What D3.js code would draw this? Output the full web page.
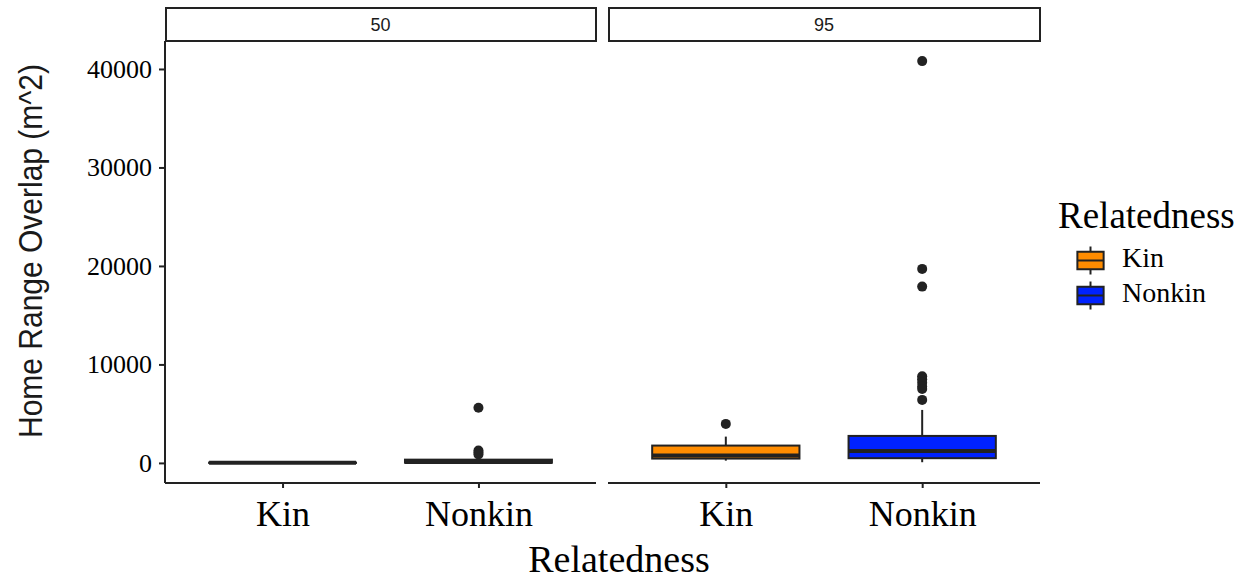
<!DOCTYPE html>
<html>
<head>
<meta charset="utf-8">
<script src="https://cdn.jsdelivr.net/npm/d3@7"></script>
<style>
  html, body { margin: 0; padding: 0; background: #fff; }
  svg { display: block; }
</style>
</head>
<body>
<svg id="chart" width="1236" height="581"></svg>
<script>
// Facet panels (home range isopleth) and groups
const facets = ["50", "95"];
const categories = ["Kin", "Nonkin"];
const fillColors = ["#ff8c00", "#0022ff"];

// Box summaries, one entry per facet x group
const boxFacet = ["50", "50", "95", "95"];
const boxGroup = ["Kin", "Nonkin", "Kin", "Nonkin"];
const lowerWhisker = [0, 0, 230, 70];
const q1 = [0, 20, 440, 480];
const median = [5, 100, 760, 1220];
const q3 = [30, 330, 1760, 2740];
const upperWhisker = [60, 600, 2670, 5380];
const outliers = [
  [],
  [5600, 1250, 1050, 850],
  [3960],
  [40800, 19700, 17900, 8800, 8500, 8150, 7750, 7500, 6400]
];

const yTicks = [0, 10000, 20000, 30000, 40000];

const svg = d3.select("#chart");
const ink = "#222";
const serif = "'Liberation Serif', 'Times New Roman', serif";
const sans = "'Liberation Sans', Arial, sans-serif";

// Layout
const panelTop = 41, panelBottom = 483;
const panelX = [[165, 596], [608, 1040]];
const stripTop = 8;

// y scale with 5% padding around the data range
const yMin = 0, yMax = 40800;
const pad = (yMax - yMin) * 0.05;
const y = d3.scaleLinear().domain([yMin - pad, yMax + pad]).range([panelBottom, panelTop]);

const color = d3.scaleOrdinal().domain(categories).range(fillColors);

facets.forEach((f, fi) => {
  const [x0, x1] = panelX[fi];
  // discrete positions: categories at 1..n with 0.6 expansion on each side
  const xPos = d3.scaleLinear().domain([0.4, categories.length + 0.6]).range([x0, x1]);
  const step = xPos(2) - xPos(1);
  const boxW = step * 0.75;
  const g = svg.append("g");

  // strip
  g.append("rect")
    .attr("x", x0 + 1).attr("y", stripTop)
    .attr("width", x1 - x0 - 1).attr("height", panelTop - stripTop)
    .attr("fill", "#fff").attr("stroke", ink).attr("stroke-width", 2);
  g.append("text")
    .attr("x", (x0 + x1) / 2).attr("y", (stripTop + panelTop) / 2)
    .attr("dy", "0.36em").attr("text-anchor", "middle")
    .attr("font-family", sans).attr("font-size", 18).attr("fill", "#1a1a1a")
    .text(f);

  // x axis
  const xAxis = d3.axisBottom(d3.scalePoint().domain(categories).range([xPos(1), xPos(2)]))
    .tickSize(5).tickPadding(10);
  const ax = g.append("g").attr("transform", `translate(0,${panelBottom})`).call(xAxis);
  ax.select(".domain").attr("d", `M${x0},0H${x1}`).attr("stroke", ink).attr("stroke-width", 2);
  ax.selectAll(".tick line").attr("stroke", ink).attr("stroke-width", 2);
  ax.selectAll(".tick text")
    .attr("font-family", serif).attr("font-size", 36).attr("fill", "#000")
    .attr("dy", "0.78em");

  // y axis only on the first panel
  if (fi === 0) {
    const yAxis = d3.axisLeft(y).tickValues(yTicks).tickFormat(d3.format("d")).tickSize(6).tickPadding(7);
    const ay = g.append("g").attr("transform", `translate(${x0},0)`).call(yAxis);
    ay.select(".domain").attr("d", `M0,${panelTop}V${panelBottom}`).attr("stroke", ink).attr("stroke-width", 2);
    ay.selectAll(".tick line").attr("stroke", ink).attr("stroke-width", 2);
    ay.selectAll(".tick text")
      .attr("font-family", serif).attr("font-size", 26).attr("fill", "#000");
  }

  // boxes
  boxFacet.forEach((bf, i) => {
    if (bf !== f) return;
    const cx = xPos(categories.indexOf(boxGroup[i]) + 1);
    const bg = g.append("g");
    bg.append("line")
      .attr("x1", cx).attr("x2", cx)
      .attr("y1", y(q3[i])).attr("y2", y(upperWhisker[i]))
      .attr("stroke", ink).attr("stroke-width", 2);
    bg.append("line")
      .attr("x1", cx).attr("x2", cx)
      .attr("y1", y(q1[i])).attr("y2", y(lowerWhisker[i]))
      .attr("stroke", ink).attr("stroke-width", 2);
    bg.append("rect")
      .attr("x", cx - boxW / 2).attr("width", boxW)
      .attr("y", y(q3[i])).attr("height", Math.max(0, y(q1[i]) - y(q3[i])))
      .attr("fill", color(boxGroup[i])).attr("stroke", ink).attr("stroke-width", 2);
    bg.append("line")
      .attr("x1", cx - boxW / 2).attr("x2", cx + boxW / 2)
      .attr("y1", y(median[i])).attr("y2", y(median[i]))
      .attr("stroke", ink).attr("stroke-width", 4);
    bg.selectAll("circle").data(outliers[i]).join("circle")
      .attr("cx", cx).attr("cy", d => y(d)).attr("r", 5)
      .attr("fill", ink);
  });
});

// y axis title
svg.append("text")
  .attr("transform", "translate(42,251) rotate(-90)")
  .attr("text-anchor", "middle")
  .attr("font-family", sans).attr("font-size", 34).attr("fill", "#1a1a1a")
  .attr("textLength", 374).attr("lengthAdjust", "spacingAndGlyphs")
  .text("Home Range Overlap (m^2)");

// x axis title
svg.append("text")
  .attr("x", 619).attr("y", 572)
  .attr("text-anchor", "middle")
  .attr("font-family", serif).attr("font-size", 38).attr("fill", "#000")
  .text("Relatedness");

// legend
const lg = svg.append("g");
lg.append("text")
  .attr("x", 1058).attr("y", 228)
  .attr("font-family", serif).attr("font-size", 37).attr("fill", "#000")
  .text("Relatedness");
const keyH = 35, keyW = 35, keyX = 1073, keyY0 = 243;
categories.forEach((c, i) => {
  const ky = keyY0 + i * keyH;
  const kcx = keyX + keyW / 2;
  const k = lg.append("g");
  k.append("line").attr("x1", kcx).attr("x2", kcx)
    .attr("y1", ky + keyH * 0.1).attr("y2", ky + keyH * 0.9)
    .attr("stroke", ink).attr("stroke-width", 2);
  k.append("rect")
    .attr("x", keyX + keyW * 0.125).attr("width", keyW * 0.75)
    .attr("y", ky + keyH * 0.25).attr("height", keyH * 0.5)
    .attr("fill", color(c)).attr("stroke", ink).attr("stroke-width", 2);
  k.append("line")
    .attr("x1", keyX + keyW * 0.125).attr("x2", keyX + keyW * 0.875)
    .attr("y1", ky + keyH / 2).attr("y2", ky + keyH / 2)
    .attr("stroke", ink).attr("stroke-width", 2);
  k.append("text")
    .attr("x", 1122).attr("y", ky + keyH / 2 - 3).attr("dy", "0.35em")
    .attr("font-family", serif).attr("font-size", 28).attr("fill", "#000")
    .text(c);
});
</script>
</body>
</html>
